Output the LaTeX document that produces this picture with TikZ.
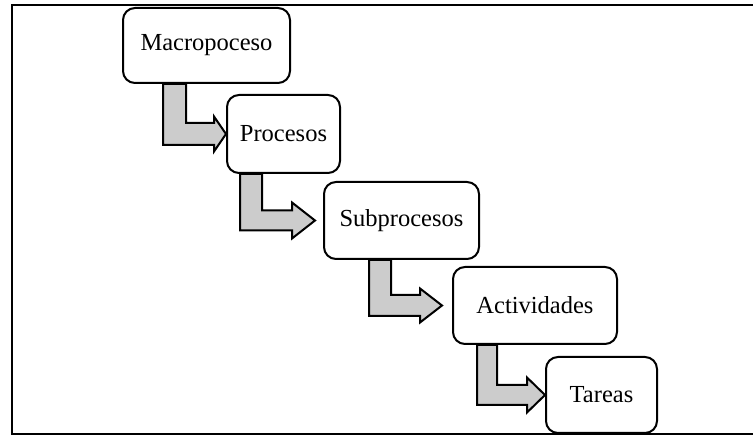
\documentclass[tikz,border=0pt]{standalone}
\usepackage{fontspec}
\setmainfont{Liberation Serif}
\usetikzlibrary{calc,backgrounds}

\tikzset{
  levelbox/.style={draw, line width=2pt, rounded corners=12pt, fill=white,
    inner sep=0pt, font=\fontsize{24.5}{28}\selectfont},
  flow/.style={draw, line width=2pt, fill=black!20, line join=miter},
  frame/.style={draw, line width=2pt}
}

% L-shaped block arrow: #1 source, #2 target, #3 shaft left x, #4 shaft width,
% #5 x of the head base, #6 half shaft width, #7 half head height, #8 gap before target
\newcommand\lflow[8]{%
  \path (#3,0) coordinate (sl) (#3+#4,0) coordinate (sr)
        ($(#2.west)+(-#8,0)$) coordinate (tip)
        (#5,0) coordinate (hb);
  \draw[flow] (sl |- #1.south) -- ($(sl |- tip)+(0,#6)$) -- ($(hb |- tip)+(0,#6)$)
    -- ($(hb |- tip)+(0,#7)$) -- (tip) -- ($(hb |- tip)+(0,-#7)$)
    -- ($(hb |- tip)+(0,-#6)$) -- ($(sr |- tip)+(0,-#6)$) -- (sr |- #1.south) -- cycle;
}

\begin{document}
\begin{tikzpicture}[x=1pt, y=-1pt]
  \useasboundingbox (0,0) rectangle (753,435);

  % outer frame, open on the right
  \draw[frame] (760,5.5) -- (11.5,5.5) -- (11.5,434) -- (760,434);

  % process levels
  \node[levelbox, minimum width=167pt, minimum height=75pt] (macro) at (206.5,45.5) {Macropoceso};
  \node[levelbox, minimum width=113pt, minimum height=78pt] (proc)  at (283.5,134) {Procesos};
  \node[levelbox, minimum width=155pt, minimum height=77pt] (sub)   at (401.5,220.5) {Subprocesos};
  \node[levelbox, minimum width=164pt, minimum height=77pt] (act)   at (535,305.5) {Actividades};
  \node[levelbox, minimum width=111pt, minimum height=76pt] (task)  at (601.5,395) {Tareas};

  % descending arrows between levels
  \begin{scope}[on background layer]
    \lflow{macro}{proc}{163}{23}{214}{11}{17.5}{0}
    \lflow{proc}{sub}{240}{22}{292}{10}{18}{8}
    \lflow{sub}{act}{369}{22}{420}{10.5}{17}{10}
    \lflow{act}{task}{477}{20}{527}{10}{17.5}{0}
  \end{scope}
\end{tikzpicture}
\end{document}
